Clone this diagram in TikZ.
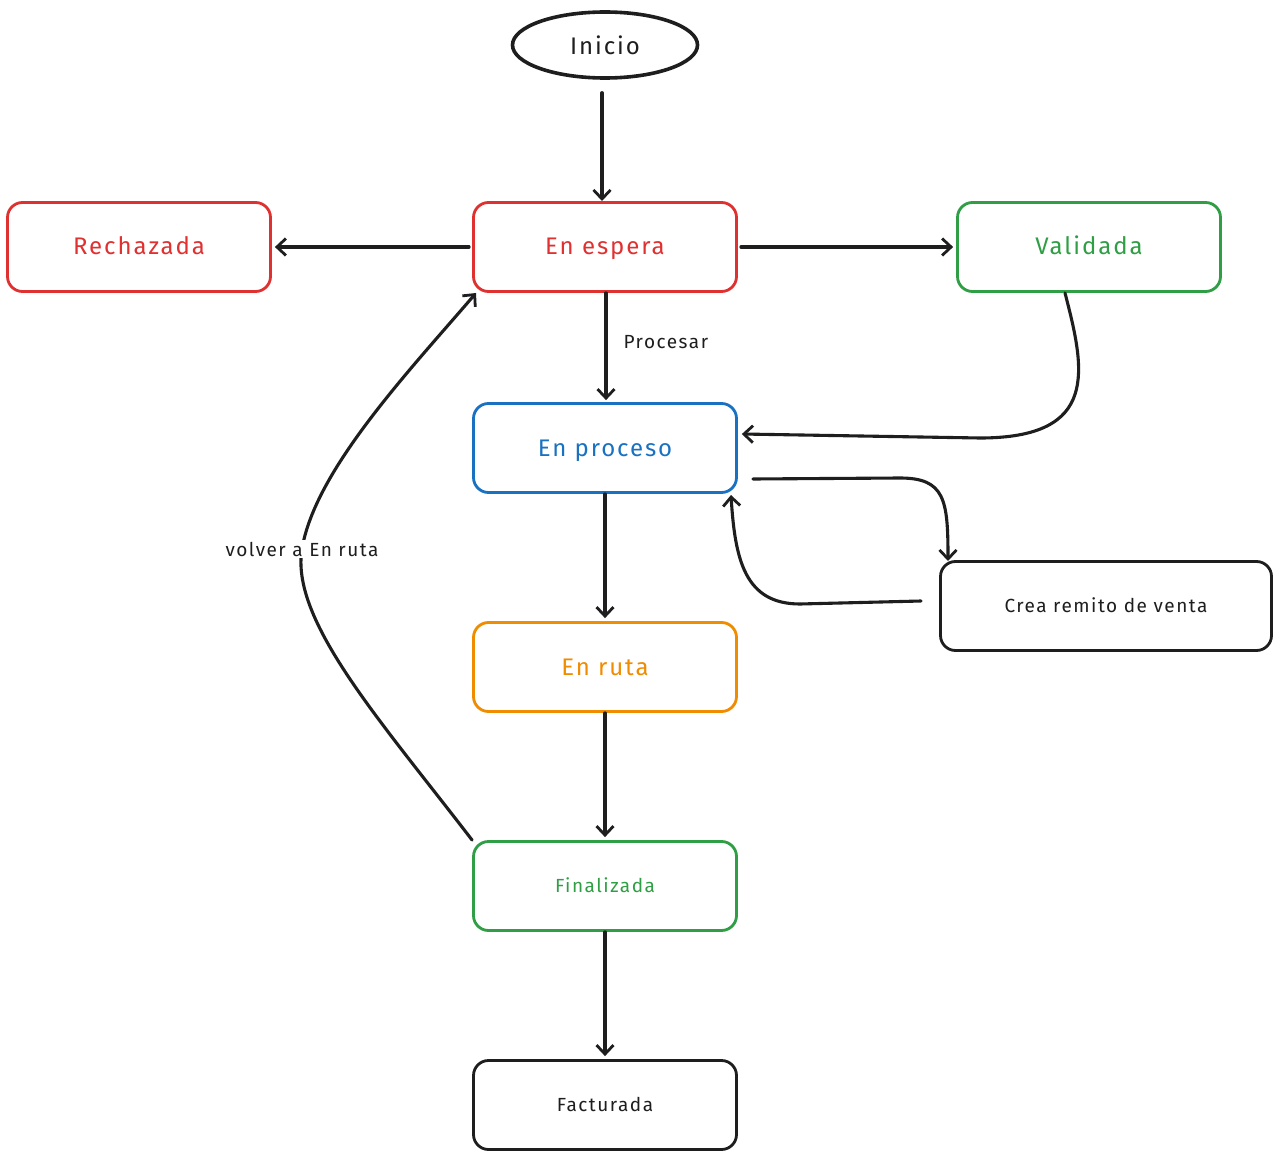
\documentclass[tikz,border=0pt]{standalone}
\usepackage{fontspec}
\setmainfont{Fira Sans}
\newfontfamily\handfont{Fira Sans}[LetterSpace=8]
\usetikzlibrary{arrows.meta,shapes.geometric}
\definecolor{xred}{HTML}{E03131}
\definecolor{xgreen}{HTML}{2F9E44}
\definecolor{xblue}{HTML}{1971C2}
\definecolor{xorange}{HTML}{F08C00}
\definecolor{xblack}{HTML}{1E1E1E}
\tikzset{
  bigfont/.style={font=\handfont\fontsize{24}{28}\selectfont},
  smallfont/.style={font=\handfont\fontsize{19}{23}\selectfont},
  box/.style={draw, rounded corners=15pt, line width=2.8pt, minimum width=263pt, minimum height=89pt, bigfont, inner sep=0pt, text height=16pt, text depth=0pt},
  smallbox/.style={box, smallfont, text height=13pt, text depth=0pt},
  conn/.style={draw=xblack, line width=3.1pt, line cap=round, line join=round, -{Straight Barb[length=9pt,width=17pt,line width=2.8pt]}},
  lbl/.style={smallfont, text=xblack, fill=white, inner sep=2pt}
}
\begin{document}
\begin{tikzpicture}[x=1pt,y=-1pt]
\useasboundingbox[fill=white] (0,0) rectangle (1280,1158);
\node[ellipse, draw=xblack, line width=3.6pt, minimum width=185pt, minimum height=66pt, bigfont, text=xblack] (inicio) at (605,45) {Inicio};
\node[box, draw=xred, text=xred] (rech) at (139,247) {Rechazada};
\node[box, draw=xred, text=xred] (esp) at (605,247) {En espera};
\node[box, draw=xgreen, text=xgreen] (val) at (1089,247) {Validada};
\node[box, draw=xblue, text=xblue] (proc) at (605,448) {En proceso};
\node[smallbox, draw=xblack, text=xblack, minimum width=331pt] (remito) at (1106,606) {Crea remito de venta};
\node[box, draw=xorange, text=xorange] (ruta) at (605,667) {En ruta};
\node[smallbox, draw=xgreen, text=xgreen] (fin) at (605,886) {Finalizada};
\node[smallbox, draw=xblack, text=xblack] (fact) at (605,1105) {Facturada};

\coordinate (a1) at (602,93);
\draw[conn, line width=3.8pt] (a1) -- (602,201);
\draw[conn] ([xshift=-3pt]esp.west) -- ([xshift=3pt]rech.east);
\draw[conn] ([xshift=3pt]esp.east) -- ([xshift=-3pt]val.west);
\draw[conn] ([xshift=1pt]esp.south) -- node[lbl, anchor=west, xshift=14pt, yshift=4pt, fill=none] {Procesar} ([xshift=1pt,yshift=2pt]proc.north);
\draw[conn] (1065,293) .. controls (1085,370) and (1100,438) .. (980,438) -- ([xshift=4pt,yshift=14pt]proc.east);
\draw[conn] (753,479) -- (900,478) .. controls (945,478) and (948,500) .. (948,561);
\draw[conn] (921,601) -- (800,604) .. controls (745,604) and (735,560) .. (731,495);
\draw[conn] (proc.south) -- ([yshift=3pt]ruta.north);
\draw[conn] (ruta.south) -- ([yshift=3pt]fin.north);
\draw[conn] (fin.south) -- ([yshift=3pt]fact.north);
\draw[conn] (fin.north west) .. controls (380,720) and (290,620) .. (302,549) node[lbl, pos=1] {volver a En ruta} .. controls (315,470) and (410,370) .. (476,293);
\end{tikzpicture}
\end{document}
